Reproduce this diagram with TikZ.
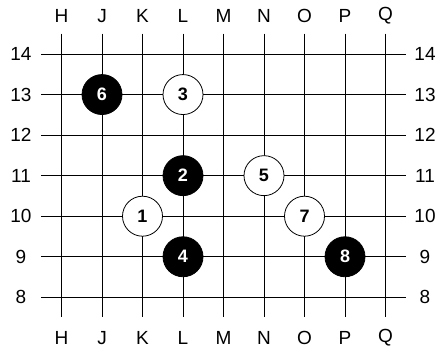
\documentclass[tikz,border=0pt]{standalone}
\usepackage{fontspec}
\setmainfont{Liberation Sans}
\begin{document}
\begin{tikzpicture}[x=1pt,y=-1pt,
  gridline/.style={line width=0.9pt,black},
  lbl/.style={font=\fontsize{19}{19}\selectfont,inner sep=0pt},
  whitestone/.style={circle,draw=black,line width=0.8pt,fill=white,minimum size=40pt,inner sep=0pt,font=\fontsize{18}{18}\selectfont\bfseries,text=black},
  blackstone/.style={circle,draw=black,line width=0.8pt,fill=black,minimum size=40pt,inner sep=0pt,font=\fontsize{18}{18}\selectfont\bfseries,text=white}]
\useasboundingbox (0,0) rectangle (441,351);
\fill[white] (0,0) rectangle (441,351);
% columns
\foreach \c [count=\i from 0] in {H,J,K,L,M,N,O,P,Q} {
  \pgfmathsetmacro{\xx}{61.5+40.5*\i}
  \draw[gridline] (\xx,33.5) -- (\xx,317);
  \node[lbl] (top\c) at (\xx,16) {\c};
  \node[lbl] (bot\c) at (\xx,338) {\c};
}
% rows
\foreach \r in {8,...,14} {
  \pgfmathsetmacro{\yy}{54+40.55*(14-\r)}
  \draw[gridline] (41,\yy) -- (406,\yy);
  \node[lbl] (left\r) at (21,\yy) {\r};
  \node[lbl] (right\r) at (425,\yy) {\r};
}
% stones
\node[whitestone] (s1) at (142.5,{54+40.55*4}) {1};
\node[blackstone] (s2) at (183,{54+40.55*3}) {2};
\node[whitestone] (s3) at (183,{54+40.55*1}) {3};
\node[blackstone] (s4) at (183,{54+40.55*5}) {4};
\node[whitestone] (s5) at (264,{54+40.55*3}) {5};
\node[blackstone] (s6) at (102,{54+40.55*1}) {6};
\node[whitestone] (s7) at (304.5,{54+40.55*4}) {7};
\node[blackstone] (s8) at (345,{54+40.55*5}) {8};
\end{tikzpicture}
\end{document}
